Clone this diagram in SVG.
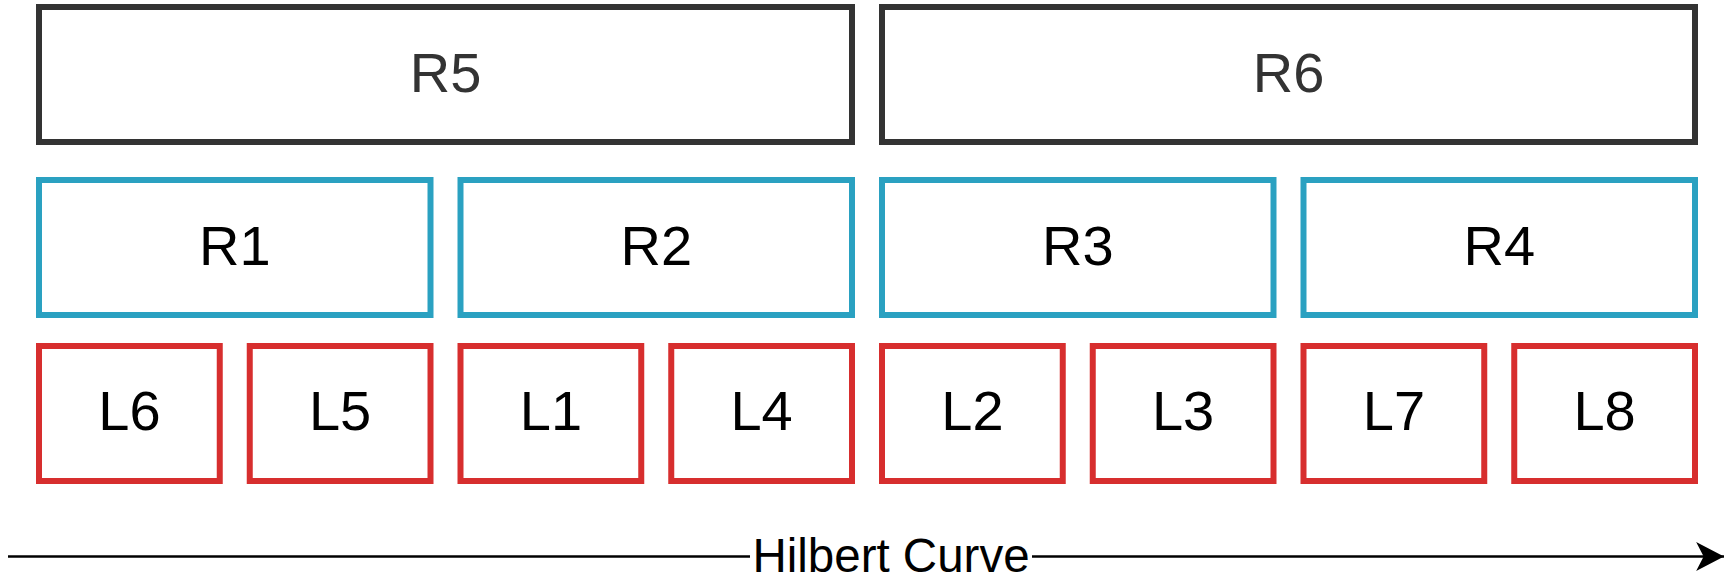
<svg xmlns="http://www.w3.org/2000/svg" width="1726" height="576" viewBox="0 0 1726 576">
<style>
rect{fill:#fff;stroke-width:6}
.top rect{stroke:#333}
.mid rect{stroke:#2aa1c1}
.leaf rect{stroke:#d72e2e}
text{font-family:"Liberation Sans",Arial,sans-serif;font-size:56px;text-anchor:middle}
.top text{fill:#333}
.mid text,.leaf text{fill:#000}
</style>
<defs>
<marker id="ah" markerUnits="userSpaceOnUse" markerWidth="30" markerHeight="30" viewBox="0 0 26 28" refX="26" refY="14" orient="auto">
<path d="M26,14 L0,0.5 L7,14 L0,27.5 Z" fill="#000"/>
</marker>
</defs>
<g id="connectors">
<line x1="8" y1="556.5" x2="1724" y2="556.5" stroke="#000" stroke-width="2.5" marker-end="url(#ah)"/>
</g>
<g id="R5" class="top"><rect x="39" y="7" width="813" height="135"/><text x="445.5" y="92">R5</text></g>
<g id="R6" class="top"><rect x="882" y="7" width="813" height="135"/><text x="1288.5" y="92">R6</text></g>
<g id="R1" class="mid"><rect x="39" y="180" width="391.5" height="135"/><text x="234.75" y="265">R1</text></g>
<g id="R2" class="mid"><rect x="460.5" y="180" width="391.5" height="135"/><text x="656.25" y="265">R2</text></g>
<g id="R3" class="mid"><rect x="882" y="180" width="391.5" height="135"/><text x="1077.75" y="265">R3</text></g>
<g id="R4" class="mid"><rect x="1303.5" y="180" width="391.5" height="135"/><text x="1499.25" y="265">R4</text></g>
<g id="L6" class="leaf"><rect x="39" y="346" width="180.75" height="135"/><text x="129.4" y="430">L6</text></g>
<g id="L5" class="leaf"><rect x="249.75" y="346" width="180.75" height="135"/><text x="340.1" y="430">L5</text></g>
<g id="L1" class="leaf"><rect x="460.5" y="346" width="180.75" height="135"/><text x="550.9" y="430">L1</text></g>
<g id="L4" class="leaf"><rect x="671.25" y="346" width="180.75" height="135"/><text x="761.6" y="430">L4</text></g>
<g id="L2" class="leaf"><rect x="882" y="346" width="180.75" height="135"/><text x="972.4" y="430">L2</text></g>
<g id="L3" class="leaf"><rect x="1092.75" y="346" width="180.75" height="135"/><text x="1183.1" y="430">L3</text></g>
<g id="L7" class="leaf"><rect x="1303.5" y="346" width="180.75" height="135"/><text x="1393.9" y="430">L7</text></g>
<g id="L8" class="leaf"><rect x="1514.25" y="346" width="180.75" height="135"/><text x="1604.6" y="430">L8</text></g>
<g id="label">
<rect x="750" y="530" width="282" height="46" style="stroke:none;fill:#fff"/>
<text x="891" y="572" style="font-size:47.5px;fill:#000">Hilbert Curve</text>
</g>
</svg>
